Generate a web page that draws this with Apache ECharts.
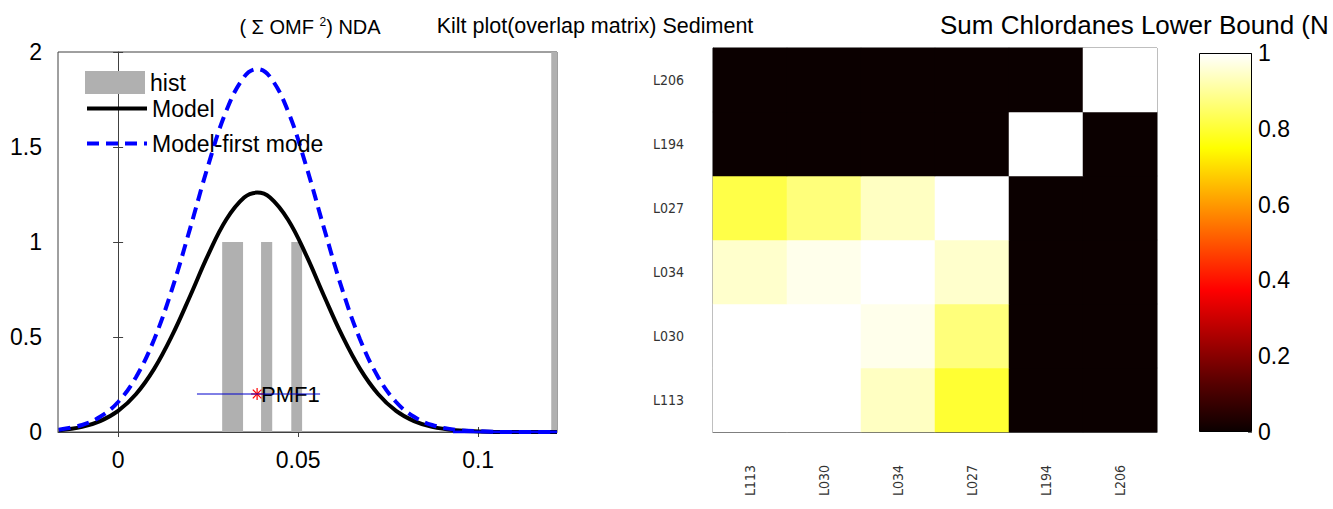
<!DOCTYPE html>
<html><head><meta charset="utf-8">
<script src="https://cdn.jsdelivr.net/npm/echarts@6/dist/echarts.min.js"></script>
<style>html,body{margin:0;padding:0;background:#fff}#c{width:1333px;height:509px}</style>
</head><body><div id="c"></div>
<script>
// ---- left panel data ----
const curveX = [-0.0165,-0.01,-0.005,0,0.005,0.01,0.015,0.02,0.025,0.03,0.035,0.0386,0.0422,0.0472,0.0522,0.0572,0.0622,0.0672,0.0722,0.0772,0.0822,0.0872,0.0937,0.1,0.11,0.1219];
const modelY = [0.009,0.027,0.057,0.111,0.200,0.332,0.508,0.716,0.932,1.117,1.234,1.26,1.234,1.117,0.932,0.716,0.508,0.332,0.200,0.111,0.057,0.027,0.009,0.003,0,0];
const firstModeY = [0.012,0.037,0.080,0.158,0.290,0.487,0.753,1.072,1.402,1.688,1.869,1.91,1.869,1.688,1.402,1.072,0.753,0.487,0.290,0.158,0.080,0.037,0.012,0.004,0,0];
const tailX = [0.093, 0.1219];
const tailY = [0, 0];
const histLeft = [0.0289, 0.0397, 0.0481, 0.1203];
const histRight = [0.0347, 0.0428, 0.0511, 0.1219];
const histCount = [1, 1, 1, 2];
const pmfName = 'PMF1';
const pmfValue = 0.0386;
const pmfLevel = 0.2;
const pmfLow = 0.0219;
const pmfHigh = 0.0561;
const xTicks = [0, 0.05, 0.1];
const xMin = -0.0167, xMax = 0.1219;
// ---- kilt plot data ----
const kiltLabels = ['L113','L030','L034','L027','L194','L206'];
// rows bottom (L113) to top (L206); columns L113..L206
const kiltRows = [
  [1.00, 1.00, 0.94, 0.80, 0, 0],
  [1.00, 1.00, 0.98, 0.87, 0, 0],
  [0.95, 0.98, 1.00, 0.95, 0, 0],
  [0.82, 0.87, 0.94, 1.00, 0, 0],
  [0, 0, 0, 0, 1, 0],
  [0, 0, 0, 0, 0, 1]
];

const hot = ['#0b0000','#550000','#aa0000','#ff0000','#ff5500','#ffaa00','#ffff00','#ffff80','#ffffff'];
const FONT = 'Liberation Sans, Arial, sans-serif';
const NARROW = 'Liberation Sans Narrow, DejaVu Sans Condensed, Liberation Sans, sans-serif';

const heatData = [];
kiltRows.forEach((row, r) => row.forEach((v, c) => heatData.push([c, r, v])));

const chart = echarts.init(document.getElementById('c'), null, {renderer: 'svg'});
const axisCol = '#404040';
const legendText = {fontFamily: FONT, fontSize: 23, color: '#000'};
chart.setOption({
  animation: false,
  backgroundColor: '#fff',
  title: [
    {text: '( Σ OMF {sup|2}) NDA', left: 305, top: 11, textAlign: 'center',
     textStyle: {fontFamily: FONT, fontSize: 20, fontWeight: 'normal', color: '#000',
       rich: {sup: {fontSize: 12, verticalAlign: 'top', padding: [0, 0, 9, 0], fontFamily: FONT, color: '#000'}}}},
    {text: 'Kilt plot(overlap matrix) Sediment', left: 590, top: 10, textAlign: 'center',
     textStyle: {fontFamily: FONT, fontSize: 21.5, fontWeight: 'normal', color: '#000'}},
    {text: 'Sum Chlordanes Lower Bound (N', left: 935, top: 7,
     textStyle: {fontFamily: FONT, fontSize: 26, fontWeight: 'normal', color: '#000'}}
  ],
  legend: [
    {left: 85, top: 71, padding: 0, itemWidth: 60, itemHeight: 23, data: [{name: 'hist', icon: 'rect'}],
     textStyle: legendText, selectedMode: false},
    {left: 85, top: 97, padding: 0, itemWidth: 60, itemHeight: 5, data: ['Model'],
     lineStyle: {width: 4}, itemStyle: {opacity: 0},
     textStyle: legendText, selectedMode: false},
    {left: 85, top: 132, padding: 0, itemWidth: 60, itemHeight: 5, data: ['Model-first mode'],
     lineStyle: {width: 4}, itemStyle: {opacity: 0},
     textStyle: legendText, selectedMode: false}
  ],
  grid: [
    {left: 58, top: 52, width: 499, height: 380, show: true, borderColor: axisCol, borderWidth: 1, backgroundColor: 'transparent'},
    {left: 713, top: 48, width: 444, height: 384, show: true, borderColor: '#555', borderWidth: 1, backgroundColor: 'transparent'},
    {left: 1199, top: 53, width: 53, height: 379}
  ],
  visualMap: {show: false, seriesIndex: 6, min: 0, max: 1, inRange: {color: hot}},
  xAxis: [
    {gridIndex: 0, type: 'value', min: xMin, max: xMax, position: 'bottom',
     axisLine: {show: true, lineStyle: {color: axisCol}},
     axisTick: {show: true, inside: true, length: 5, customValues: xTicks, lineStyle: {color: axisCol}},
     axisLabel: {customValues: xTicks, fontFamily: FONT, fontSize: 23, color: '#000', margin: 16, formatter: v => String(v)},
     splitLine: {show: false}},
    {gridIndex: 0, type: 'value', min: xMin, max: xMax, position: 'top',
     axisLine: {show: false},
     axisTick: {show: true, inside: true, length: 5, customValues: xTicks, lineStyle: {color: axisCol}},
     axisLabel: {show: false}, splitLine: {show: false}},
    {gridIndex: 1, type: 'category', data: kiltLabels, position: 'bottom',
     axisLine: {show: true, lineStyle: {color: '#555'}}, axisTick: {show: false},
     axisLabel: {rotate: 90, fontFamily: NARROW, fontSize: 14, color: '#333', margin: 33},
     splitLine: {show: false}},
    {gridIndex: 2, type: 'category', data: ['cb'], show: false}
  ],
  yAxis: [
    {gridIndex: 0, type: 'value', min: 0, max: 2, interval: 0.5,
     axisLine: {show: true, lineStyle: {color: axisCol}},
     axisTick: {show: true, inside: true, length: 5, lineStyle: {color: axisCol}},
     axisLabel: {fontFamily: FONT, fontSize: 23, color: '#000', margin: 16},
     splitLine: {show: false}},
    {gridIndex: 0, type: 'value', min: 0, max: 2, interval: 0.5, position: 'right',
     axisLine: {show: false},
     axisTick: {show: true, inside: true, length: 5, lineStyle: {color: axisCol}},
     axisLabel: {show: false}, splitLine: {show: false}},
    {gridIndex: 1, type: 'category', data: kiltLabels,
     axisLine: {show: true, lineStyle: {color: '#555'}}, axisTick: {show: false},
     axisLabel: {fontFamily: NARROW, fontSize: 14, color: '#333', margin: 29},
     splitLine: {show: false}},
    {gridIndex: 2, type: 'value', min: 0, max: 1, interval: 0.2, position: 'right',
     axisLine: {show: false},
     axisTick: {show: true, inside: true, length: 4, lineStyle: {color: '#666'}},
     axisLabel: {fontFamily: FONT, fontSize: 23, color: '#000', margin: 6},
     splitLine: {show: false}}
  ],
  series: [
    {name: 'hist', type: 'custom', xAxisIndex: 0, yAxisIndex: 0,
     itemStyle: {color: '#b0b0b0'},
     encode: {x: [0, 1], y: 2},
     data: histLeft.map((l, i) => [l, histRight[i], histCount[i]]),
     renderItem: (params, api) => {
       const p0 = api.coord([api.value(0), 0]);
       const p1 = api.coord([api.value(1), api.value(2)]);
       return {type: 'rect', shape: {x: p0[0], y: p1[1], width: p1[0] - p0[0], height: p0[1] - p1[1]},
               style: {fill: '#b0b0b0'}};
     }},
    {name: 'Model', type: 'line', xAxisIndex: 0, yAxisIndex: 0, symbol: 'none', smooth: 0.4,
     lineStyle: {color: '#000', width: 4}, itemStyle: {color: '#000'},
     data: curveX.map((x, i) => [x, modelY[i]])},
    {name: 'Model-first mode', type: 'line', xAxisIndex: 0, yAxisIndex: 0, symbol: 'none', smooth: 0.4,
     lineStyle: {color: '#0000ff', width: 4, type: [12, 7]}, itemStyle: {color: '#0000ff'},
     data: curveX.map((x, i) => [x, firstModeY[i]])},
    {name: 'tail', type: 'line', xAxisIndex: 0, yAxisIndex: 0, symbol: 'none',
     lineStyle: {color: '#0000ff', width: 3},
     data: tailX.map((x, i) => [x, tailY[i]])},
    {name: 'pmfRange', type: 'line', xAxisIndex: 0, yAxisIndex: 0, symbol: 'none',
     lineStyle: {color: '#0000cc', width: 1},
     data: [[pmfLow, pmfLevel], [pmfHigh, pmfLevel]]},
    {name: 'pmf', type: 'custom', xAxisIndex: 0, yAxisIndex: 0,
     data: [[pmfValue, pmfLevel]],
     renderItem: (params, api) => {
       const c = api.coord([api.value(0), api.value(1)]);
       const r = 6, d = 4.3;
       const s = {stroke: '#ff0000', lineWidth: 1.2};
       return {type: 'group', children: [
         {type: 'line', shape: {x1: c[0] - r, y1: c[1], x2: c[0] + r, y2: c[1]}, style: s},
         {type: 'line', shape: {x1: c[0], y1: c[1] - r, x2: c[0], y2: c[1] + r}, style: s},
         {type: 'line', shape: {x1: c[0] - d, y1: c[1] - d, x2: c[0] + d, y2: c[1] + d}, style: s},
         {type: 'line', shape: {x1: c[0] - d, y1: c[1] + d, x2: c[0] + d, y2: c[1] - d}, style: s},
         {type: 'text', x: c[0] + 4, y: c[1], style: {text: pmfName, fill: '#000', fontSize: 22,
           fontFamily: FONT, verticalAlign: 'middle', align: 'left'}}
       ]};
     }},
    {name: 'kilt', type: 'heatmap', xAxisIndex: 2, yAxisIndex: 2, data: heatData,
     itemStyle: {borderWidth: 0}, emphasis: {disabled: true}},
    {name: 'colorbar', type: 'bar', xAxisIndex: 3, yAxisIndex: 3, data: [1], barWidth: '100%',
     itemStyle: {borderColor: '#000', borderWidth: 1,
       color: {type: 'linear', x: 0, y: 1, x2: 0, y2: 0,
         colorStops: hot.map((c, i) => ({offset: i / (hot.length - 1), color: c}))}}}
  ]
});
</script></body></html>
